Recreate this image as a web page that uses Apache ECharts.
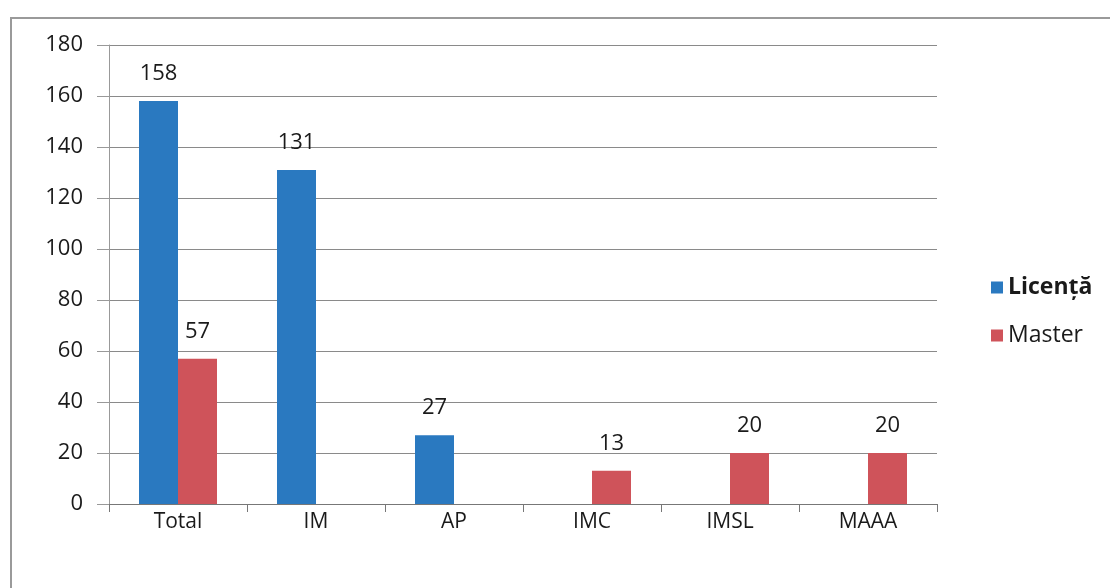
<!DOCTYPE html>
<html>
<head>
<meta charset="utf-8">
<script src="https://cdn.jsdelivr.net/npm/echarts@6/dist/echarts.min.js"></script>
<style>html,body{margin:0;padding:0;background:#fff}#c{width:1110px;height:588px}</style>
</head>
<body>
<div id="c"></div>
<script>
const categories = ['Total', 'IM', 'AP', 'IMC', 'IMSL', 'MAAA'];
const licenta = [158, 131, 27, null, null, null];
const master = [57, null, null, 13, 20, 20];
const yTicks = { min: 0, max: 180, interval: 20 };

const chart = echarts.init(document.getElementById('c'));
const font = '"Open Sans", Lato, sans-serif';
const labelCfg = { show: true, position: 'top', distance: 16, fontSize: 22, color: '#1a1a1a', fontFamily: font };
chart.setOption({
  animation: false,
  graphic: [{ type: 'rect', shape: { x: 11, y: 18, width: 1200, height: 700 }, style: { fill: 'none', stroke: '#9a9a9a', lineWidth: 2 } }],
  grid: { left: 109, right: 173, top: 45, bottom: 84 },
  legend: {
    orient: 'vertical', left: 986, top: 271, itemGap: 25, itemWidth: 12, itemHeight: 12,
    icon: 'rect',
    textStyle: { fontSize: 23, color: '#1a1a1a', fontFamily: font },
    data: [{ name: 'Licență', textStyle: { fontWeight: 'bold' } }, { name: 'Master' }]
  },
  xAxis: {
    type: 'category', data: categories,
    axisLine: { lineStyle: { color: '#777' } },
    axisTick: { show: true, length: 8, lineStyle: { color: '#777' } },
    axisLabel: { fontSize: 21, color: '#1a1a1a', fontFamily: font, margin: 8 }
  },
  yAxis: {
    type: 'value', min: yTicks.min, max: yTicks.max, interval: yTicks.interval,
    axisLine: { show: true, lineStyle: { color: '#999' } },
    axisTick: { show: true, length: 12, lineStyle: { color: '#999' } },
    axisLabel: { fontSize: 22, color: '#1a1a1a', fontFamily: font, margin: 26 },
    splitLine: { lineStyle: { color: '#8a8a8a' } }
  },
  series: [
    { name: 'Licență', type: 'bar', data: licenta, barWidth: 39, barGap: '0%', itemStyle: { color: '#2a79c0' }, label: labelCfg },
    { name: 'Master', type: 'bar', data: master, barWidth: 39, itemStyle: { color: '#cf535a' }, label: labelCfg }
  ]
});
</script>
</body>
</html>
